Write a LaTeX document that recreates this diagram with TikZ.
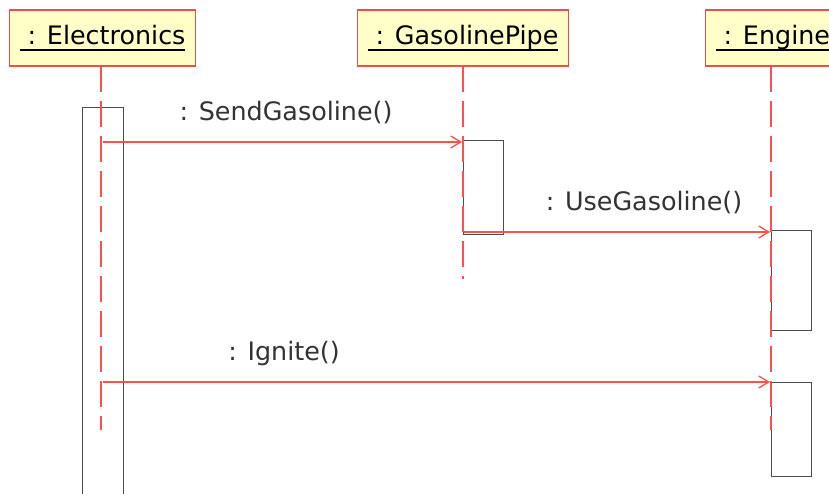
\documentclass[tikz,border=0pt]{standalone}
\usepackage{fontspec}
\setmainfont{DejaVu Sans}
\usetikzlibrary{arrows.meta}
\definecolor{hdrfill}{HTML}{FFFFC8}
\definecolor{hdrline}{HTML}{E85050}
\definecolor{life}{HTML}{FF5050}
\definecolor{msgtext}{HTML}{333333}
% object name with a heavy underline
\newcommand\objname[1]{\setbox0\hbox{#1}\rlap{\vrule width\wd0 height -4pt depth 6.2pt}\box0}
\begin{document}
\begin{tikzpicture}[x=1pt,y=-1pt,
  header/.style={draw=hdrline, fill=hdrfill, line width=1.2pt, anchor=west,
    minimum height=56pt, inner xsep=10pt, inner ysep=0pt,
    font=\fontsize{25.4}{28}\selectfont, text=black},
  lifeline/.style={draw=life, line width=1.3pt, dash pattern=on 26pt off 9pt},
  actbox/.style={draw=black!70, line width=1.2pt, anchor=north west, inner sep=0pt},
  msg/.style={draw=life, line width=1.3pt, -{Straight Barb[length=10pt,width=12pt]}},
  msglabel/.style={anchor=base, inner sep=0pt, text=msgtext,
    font=\fontsize{25.4}{28}\selectfont}]
\useasboundingbox (0,0) rectangle (829,493);
\begin{scope}
\clip (0,0) rectangle (829,493);

% object headers
\node[header] (elec) at (9,38) {\objname{\ : Electronics}};
\node[header] (pipe) at (357,38) {\objname{\ : GasolinePipe}};
\node[header] (eng) at (705,38) {\objname{\ : Engine}};

% activation bars
\node[actbox, minimum width=41pt, minimum height=390pt] (elecAct) at (82,107) {};
\node[actbox, minimum width=40pt, minimum height=94pt] (pipeAct) at (463,140) {};
\node[actbox, minimum width=40pt, minimum height=100pt] (engAct1) at (771,230) {};
\node[actbox, minimum width=40pt, minimum height=94pt] (engAct2) at (771,382) {};

% lifelines
\coordinate (elecTop) at (101,66);
\coordinate (elecEnd) at (101,430);
\coordinate (pipeTop) at (463,66);
\coordinate (pipeEnd) at (463,279);
\coordinate (engTop) at (771,66);
\coordinate (engEnd) at (771,430);
\draw[lifeline] (elecTop) -- (elecEnd);
\draw[lifeline] (pipeTop) -- (pipeEnd);
\draw[lifeline] (engTop) -- (engEnd);

% messages
\coordinate (m1s) at (103,142);
\coordinate (m1e) at (462,142);
\coordinate (m2s) at (464,232);
\coordinate (m2e) at (770,232);
\coordinate (m3s) at (103,382);
\coordinate (m3e) at (770,382);
\draw[msg] (m1s) -- (m1e);
\draw[msg] (m2s) -- (m2e);
\draw[msg] (m3s) -- (m3e);

\node[msglabel] (l1) at (286,120) {: SendGasoline()};
\node[msglabel] (l2) at (644,210) {: UseGasoline()};
\node[msglabel] (l3) at (284,360) {: Ignite()};
\end{scope}
\end{tikzpicture}
\end{document}
